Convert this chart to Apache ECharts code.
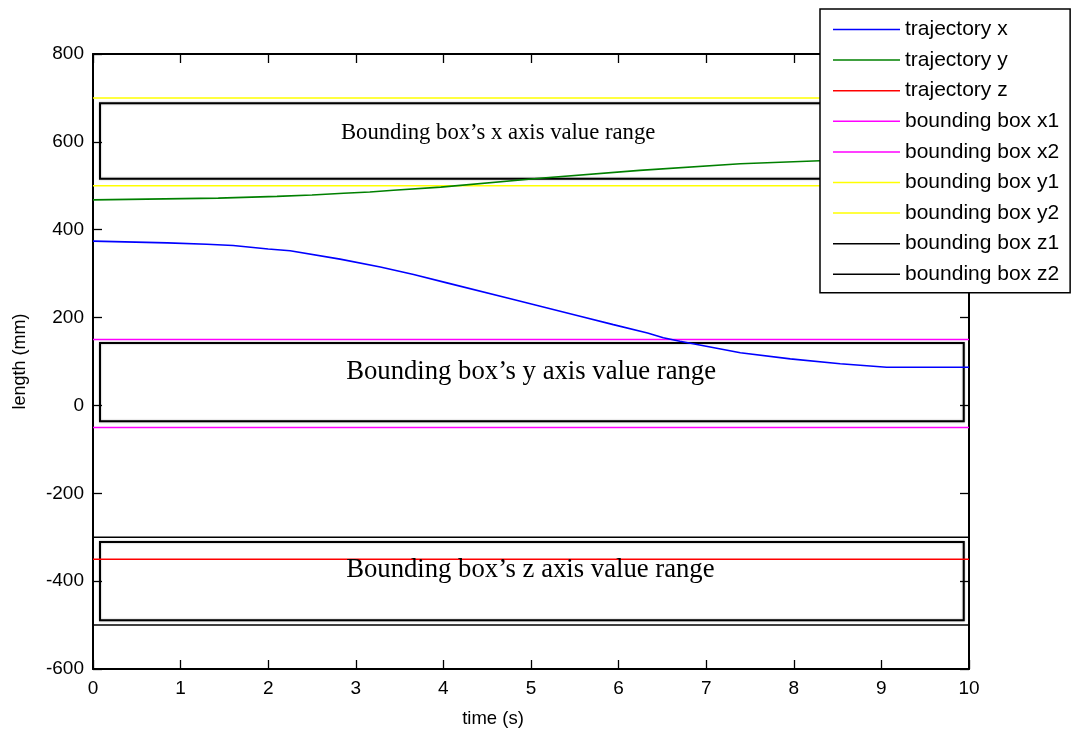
<!DOCTYPE html>
<html>
<head>
<meta charset="utf-8">
<script src="https://cdn.jsdelivr.net/npm/echarts@6/dist/echarts.min.js"></script>
<style>
html,body{margin:0;padding:0;background:#fff;}
#main{width:1076px;height:733px;}
</style>
</head>
<body>
<div id="main"></div>
<script>
// trajectory x (blue)
var trajXTime = [0, 0.85, 1.3, 1.6, 2.0, 2.25, 2.82, 3.28, 3.66, 4.04, 4.8, 5.56, 5.94, 6.33, 6.51, 6.7, 7.39, 7.96, 8.53, 9.06, 10];
var trajXVal  = [374, 370, 367, 364, 356, 352, 333, 315, 298, 279, 241, 203, 184, 165, 154, 146, 120, 106, 95, 87, 87];
// trajectory y (green)
var trajYTime = [0, 1.43, 2.1, 2.5, 2.86, 3.16, 3.43, 3.97, 5.1, 6.24, 7.39, 8.3, 9, 10];
var trajYVal  = [468, 472, 476, 479, 483, 486, 490, 497, 517, 535, 550, 557, 561, 564];
// trajectory z (red) - constant
var trajZVal = -350;
// bounding box limits
var boxNames  = ['bounding box x1', 'bounding box x2', 'bounding box y1', 'bounding box y2', 'bounding box z1', 'bounding box z2'];
var boxVals   = [150, -50, 500, 700, -300, -500];
var boxColors = ['#ff00ff', '#ff00ff', '#ffff00', '#ffff00', '#000000', '#000000'];
// annotation rectangles [t1, v1, t2, v2]
var rects = [
  [0.08, 688, 9.94, 516],
  [0.08, 142, 9.94, -36],
  [0.08, -311, 9.94, -489]
];
var rectTexts = ['Bounding box\u2019s x axis value range', 'Bounding box\u2019s y axis value range', 'Bounding box\u2019s z axis value range'];
var rectTextPos = [[2.83, 620], [2.89, 75], [2.89, -374]];
var rectTextSize = [22.7, 26.7, 26.7];

var xTicks = [0, 1, 2, 3, 4, 5, 6, 7, 8, 9, 10];
var yTicks = [-600, -400, -200, 0, 200, 400, 600, 800];

function pairs(ts, vs){
  var out = [];
  for (var i = 0; i < ts.length; i++) out.push([ts[i], vs[i]]);
  return out;
}

var font = 'Liberation Sans, Arial, sans-serif';
var chart = echarts.init(document.getElementById('main'));

var series = [
  {name:'trajectory x', type:'line', symbol:'none', data:pairs(trajXTime, trajXVal),
   lineStyle:{color:'#0000ff', width:1.6}, itemStyle:{color:'#0000ff'}, z:5},
  {name:'trajectory y', type:'line', symbol:'none', data:pairs(trajYTime, trajYVal),
   lineStyle:{color:'#008000', width:1.6}, itemStyle:{color:'#008000'}, z:5},
  {name:'trajectory z', type:'line', symbol:'none', data:[[xTicks[0], trajZVal], [xTicks[xTicks.length-1], trajZVal]],
   lineStyle:{color:'#ff0000', width:1.5}, itemStyle:{color:'#ff0000'}, z:4}
];
for (var i = 0; i < boxNames.length; i++) {
  series.push({name:boxNames[i], type:'line', symbol:'none',
    data:[[xTicks[0], boxVals[i]], [xTicks[xTicks.length-1], boxVals[i]]],
    lineStyle:{color:boxColors[i], width:1.5}, itemStyle:{color:boxColors[i]}, z:3});
}
// rectangles as markArea on a hidden helper series
series.push({type:'line', data:[], silent:true,
  markArea:{silent:true,
    itemStyle:{color:'rgba(0,0,0,0)', borderColor:'#000', borderWidth:2, shadowColor:'rgba(0,0,0,0.35)', shadowBlur:2},
    data:rects.map(function(r){ return [{coord:[r[0], r[1]]}, {coord:[r[2], r[3]]}]; })
  }
});

var axisCommon = {
  min: 0, max: 10, interval: 1,
  axisLine:{show:true, onZero:false, lineStyle:{color:'#000', width:2}},
  axisTick:{show:true, inside:true, length:9, lineStyle:{color:'#000', width:1.3}},
  splitLine:{show:false}
};

chart.setOption({
  animation:false,
  backgroundColor:'#fff',
  grid:{left:93, right:107, top:54, bottom:63, containLabel:false},
  legend:{
    orient:'vertical', left:820, top:9,
    data:series.slice(0, 9).map(function(s){ return s.name; }),
    icon:'rect', itemWidth:67, itemHeight:1.5, itemGap:9.6,
    padding:[10, 11, 8, 13],
    backgroundColor:'#fff', borderColor:'#000', borderWidth:1.5, borderRadius:0,
    textStyle:{fontFamily:font, fontSize:21, lineHeight:21, color:'#000'},
    selectedMode:false, z:10
  },
  xAxis:[
    Object.assign({}, axisCommon, {type:'value', position:'bottom',
      name:'time (s)', nameLocation:'middle', nameGap:40,
      nameTextStyle:{fontFamily:font, fontSize:18.5, color:'#000', padding:[0, 76, 0, 0]},
      axisLabel:{fontFamily:font, fontSize:19, color:'#000', margin:10}}),
    Object.assign({}, axisCommon, {type:'value', position:'top', axisLabel:{show:false}})
  ],
  yAxis:[
    Object.assign({}, axisCommon, {type:'value', position:'left', min:yTicks[0], max:yTicks[yTicks.length-1], interval:200,
      name:'length (mm)', nameLocation:'middle', nameGap:64, nameRotate:90,
      nameTextStyle:{fontFamily:font, fontSize:18, color:'#000'},
      axisLabel:{fontFamily:font, fontSize:19, color:'#000', margin:9}}),
    Object.assign({}, axisCommon, {type:'value', position:'right', min:yTicks[0], max:yTicks[yTicks.length-1], interval:200,
      axisLabel:{show:false}})
  ],
  series:series
});

// text annotations inside the rectangles
var texts = rectTexts.map(function(txt, i){
  var p = chart.convertToPixel({xAxisIndex:0, yAxisIndex:0}, rectTextPos[i]);
  return {type:'text', x:p[0], y:p[1], z:6,
    style:{text:txt, fill:'#000', font:rectTextSize[i] + 'px "Liberation Serif", "Times New Roman", serif',
      textAlign:'left', textVerticalAlign:'middle'}};
});
chart.setOption({graphic:texts});
</script>
</body>
</html>
